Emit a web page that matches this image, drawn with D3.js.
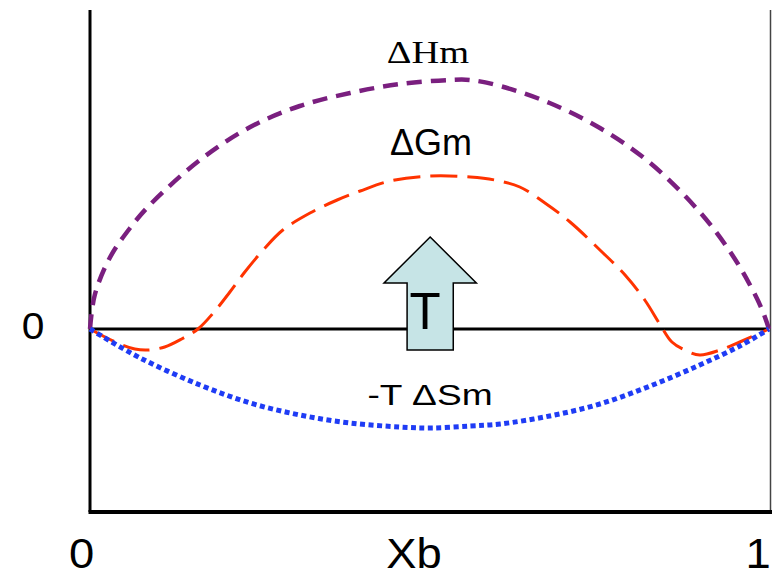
<!DOCTYPE html>
<html>
<head>
<meta charset="utf-8">
<script src="https://cdn.jsdelivr.net/npm/d3@7"></script>
<style>
  html, body { margin: 0; padding: 0; background: #fff; }
  svg { display: block; }
</style>
</head>
<body>
<svg id="chart" width="772" height="578"></svg>
<script>
// ---- data (x = mole fraction Xb, y = arbitrary energy units) ----
const xH = [0, 0.007, 0.029, 0.059, 0.088, 0.162, 0.236, 0.309, 0.383, 0.457, 0.530, 0.560, 0.604, 0.677, 0.751, 0.825, 0.898, 0.943, 0.972, 0.990, 1];
const dHm = [0, 0.34, 0.71, 1.01, 1.24, 1.69, 2.02, 2.23, 2.36, 2.45, 2.49, 2.49, 2.43, 2.26, 2.01, 1.66, 1.17, 0.77, 0.44, 0.19, 0];

const xG = [0, 0.022, 0.044, 0.066, 0.085, 0.110, 0.135, 0.159, 0.184, 0.206, 0.228, 0.255, 0.284, 0.324, 0.364, 0.398, 0.442, 0.501, 0.560, 0.596, 0.633, 0.670, 0.707, 0.751, 0.788, 0.817, 0.840, 0.857, 0.876, 0.898, 0.928, 0.957, 1];
const dGm = [0, -0.08, -0.15, -0.20, -0.21, -0.18, -0.10, 0, 0.18, 0.37, 0.57, 0.79, 0.99, 1.16, 1.29, 1.38, 1.48, 1.53, 1.52, 1.49, 1.42, 1.26, 1.07, 0.79, 0.54, 0.29, 0.04, -0.13, -0.21, -0.26, -0.21, -0.13, 0];

const xS = [0, 0.074, 0.162, 0.236, 0.309, 0.383, 0.457, 0.501, 0.560, 0.604, 0.677, 0.751, 0.825, 0.898, 0.957, 1];
const mTdSm = [0, -0.29, -0.56, -0.74, -0.86, -0.94, -0.98, -0.99, -0.97, -0.95, -0.87, -0.75, -0.57, -0.36, -0.17, 0];

const xTickLabels = ["0", "Xb", "1"];
const xTickValues = [0, 0.5, 1];
const yTickLabels = ["0"];
const yTickValues = [0];
const seriesLabels = ["\u0394Hm", "\u0394Gm", "-T \u0394Sm"];
const arrowLabel = "T";

// ---- scales ----
const svg = d3.select("#chart");
const x = d3.scaleLinear().domain([0, 1]).range([90, 769]);
const y = d3.scaleLinear().domain([-1.83, 3.19]).range([512, 10]);

// ---- frame ----
svg.append("line").attr("x1", x(1) + 1.5).attr("x2", x(1) + 1.5)
  .attr("y1", y(3.19)).attr("y2", y(-1.83))
  .attr("stroke", "#444").attr("stroke-width", 1.5);
svg.append("line").attr("x1", x(0)).attr("x2", x(0))
  .attr("y1", y(3.19)).attr("y2", y(-1.83))
  .attr("stroke", "#000").attr("stroke-width", 3);
svg.append("line").attr("x1", x(0) - 1.5).attr("x2", 772)
  .attr("y1", y(-1.83)).attr("y2", y(-1.83))
  .attr("stroke", "#000").attr("stroke-width", 4);

// zero line
svg.append("line").attr("x1", x(0)).attr("x2", x(1))
  .attr("y1", y(0)).attr("y2", y(0))
  .attr("stroke", "#000").attr("stroke-width", 3);

// ---- curves ----
const line = d3.line().x(d => x(d[0])).y(d => y(d[1])).curve(d3.curveCatmullRom.alpha(0.5));

svg.append("path").datum(d3.zip(xH, dHm)).attr("d", line)
  .attr("fill", "none").attr("stroke", "#7a1f7f").attr("stroke-width", 4.5)
  .attr("stroke-dasharray", "15,9");

svg.append("path").datum(d3.zip(xG, dGm)).attr("d", line)
  .attr("fill", "none").attr("stroke", "#ff3300").attr("stroke-width", 3)
  .attr("stroke-dasharray", "27,10");

svg.append("path").datum(d3.zip(xS, mTdSm)).attr("d", line)
  .attr("fill", "none").attr("stroke", "#1f3cf5").attr("stroke-width", 5)
  .attr("stroke-dasharray", "5,3.5");

// ---- block arrow ----
const arrowX = 0.501, tipY = 0.92, headY = 0.46, baseY = -0.21, headHalf = 0.068, shaftHalf = 0.034;
const arrowPts = [
  [arrowX, tipY], [arrowX + headHalf, headY], [arrowX + shaftHalf, headY],
  [arrowX + shaftHalf, baseY], [arrowX - shaftHalf, baseY], [arrowX - shaftHalf, headY],
  [arrowX - headHalf, headY]
];
svg.append("path")
  .attr("d", d3.line().x(d => x(d[0])).y(d => y(d[1]))(arrowPts) + "Z")
  .attr("fill", "#c6e4e6").attr("stroke", "#000").attr("stroke-width", 1.5)
  .attr("stroke-linejoin", "miter");
svg.append("text").attr("x", x(arrowX) - 5).attr("y", y(0))
  .attr("text-anchor", "middle").attr("font-family", "Liberation Sans, Arial, sans-serif")
  .attr("font-size", 51).attr("fill", "#000").text(arrowLabel);

// helper for horizontally stretched text
function stretchedText(cx, by, str, size, sx, family) {
  svg.append("text")
    .attr("transform", `translate(${cx},${by}) scale(${sx},1)`)
    .attr("text-anchor", "middle").attr("font-family", family)
    .attr("font-size", size).attr("fill", "#000").text(str);
}

// ---- series labels ----
stretchedText(428, 63, seriesLabels[0], 32, 1.2, "Liberation Serif, Times New Roman, serif");
stretchedText(431, 155, seriesLabels[1], 36, 1.0, "Liberation Sans, Arial, sans-serif");
stretchedText(430, 405, seriesLabels[2], 29, 1.28, "Liberation Sans, Arial, sans-serif");

// ---- tick labels ----
const xLabelPos = [81.5, 414, 758];
xTickLabels.forEach((d, i) => {
  stretchedText(xLabelPos[i], 568, d, 42, 1.08, "Liberation Sans, Arial, sans-serif");
});
yTickLabels.forEach((d, i) => {
  stretchedText(33, y(yTickValues[i]) + 10, d, 37, 1.1, "Liberation Sans, Arial, sans-serif");
});
</script>
</body>
</html>
